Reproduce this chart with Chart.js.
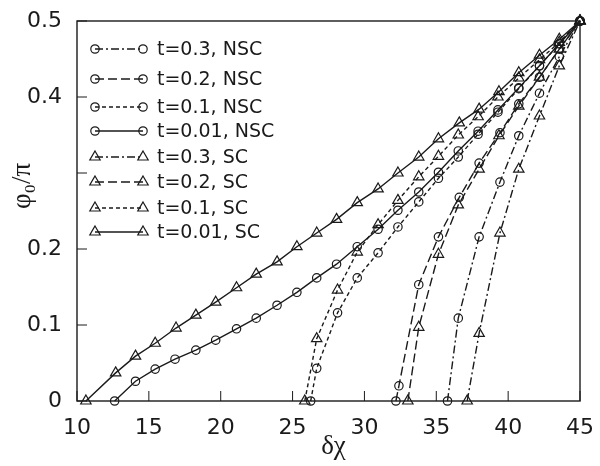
<!DOCTYPE html>
<html>
<head>
<meta charset="utf-8">
<script src="https://cdn.jsdelivr.net/npm/chart.js@4/dist/chart.umd.min.js"></script>
<style>
  html, body { margin: 0; padding: 0; background: #fff; }
  #wrap { width: 600px; height: 466px; }
</style>
</head>
<body>
<div id="wrap"><canvas id="phiChart" width="600" height="466"></canvas></div>
<script>
// ── data (δχ vs φ0/π) ──
const seriesLabels = ['t=0.3, NSC', 't=0.2, NSC', 't=0.1, NSC', 't=0.01, NSC',
                      't=0.3, SC',  't=0.2, SC',  't=0.1, SC',  't=0.01, SC'];

const nsc03X = [35.78, 36.53, 37.98, 39.43, 40.74, 42.18, 43.56, 45.0];
const nsc03Y = [0, 0.109, 0.216, 0.288, 0.349, 0.405, 0.453, 0.5];

const nsc02X = [32.19, 32.40, 33.78, 35.15, 36.60, 37.98, 39.43, 40.74, 42.18, 43.56, 45.0];
const nsc02Y = [0, 0.020, 0.153, 0.216, 0.268, 0.313, 0.353, 0.391, 0.426, 0.463, 0.5];

const nsc01X = [26.26, 26.68, 28.13, 29.50, 30.95, 32.33, 33.78, 35.15, 36.53, 37.91, 39.29, 40.74, 42.18, 43.56, 45.0];
const nsc01Y = [0, 0.043, 0.116, 0.162, 0.195, 0.229, 0.262, 0.293, 0.321, 0.351, 0.380, 0.411, 0.441, 0.470, 0.5];

const nsc001X = [12.62, 14.07, 15.44, 16.82, 18.27, 19.65, 21.10, 22.47, 23.92, 25.30, 26.68, 28.06,
                 29.50, 30.95, 32.33, 33.78, 35.15, 36.53, 37.91, 39.29, 40.74, 42.18, 43.56, 45.0];
const nsc001Y = [0, 0.026, 0.042, 0.055, 0.067, 0.080, 0.095, 0.109, 0.126, 0.143, 0.162, 0.180,
                 0.203, 0.226, 0.251, 0.275, 0.301, 0.329, 0.355, 0.383, 0.412, 0.441, 0.470, 0.5];

const sc03X = [37.15, 37.98, 39.43, 40.74, 42.18, 43.56, 45.0];
const sc03Y = [0, 0.089, 0.221, 0.305, 0.375, 0.441, 0.5];

const sc02X = [33.02, 33.78, 35.15, 36.53, 37.98, 39.36, 40.74, 42.18, 43.56, 45.0];
const sc02Y = [0, 0.097, 0.193, 0.258, 0.305, 0.349, 0.388, 0.426, 0.463, 0.5];

const sc01X = [25.85, 26.68, 28.13, 29.50, 30.95, 32.33, 33.78, 35.15, 36.53, 37.91, 39.29, 40.74, 42.18, 43.56, 45.0];
const sc01Y = [0, 0.082, 0.146, 0.196, 0.232, 0.264, 0.295, 0.322, 0.350, 0.374, 0.400, 0.425, 0.449, 0.472, 0.5];

const sc001X = [10.62, 12.69, 14.07, 15.44, 16.89, 18.27, 19.65, 21.10, 22.47, 23.92, 25.30, 26.68, 28.06,
                29.50, 30.95, 32.33, 33.78, 35.15, 36.60, 37.98, 39.36, 40.74, 42.18, 43.56, 45.0];
const sc001Y = [0, 0.037, 0.059, 0.076, 0.096, 0.113, 0.130, 0.149, 0.167, 0.183, 0.203, 0.221, 0.239,
                0.261, 0.279, 0.300, 0.321, 0.345, 0.366, 0.384, 0.407, 0.432, 0.455, 0.476, 0.5];

const xTicks = [10, 15, 20, 25, 30, 35, 40, 45];
const yTicks = [0, 0.1, 0.2, 0.3, 0.4, 0.5];
const yTickLabels = ['0', '0.1', '0.2', '', '0.4', '0.5'];

const INK = '#1a1a1a';
const DASH = { '0.3': [8, 3, 2, 3], '0.2': [9, 4], '0.1': [4, 3], '0.01': [] };

const pts = (xs, ys) => xs.map((x, i) => ({ x, y: ys[i] }));

function mkSet(i, xs, ys, t, shape) {
  return {
    label: seriesLabels[i],
    data: pts(xs, ys),
    borderColor: INK,
    borderWidth: 1.4,
    borderDash: DASH[t],
    pointStyle: shape,
    pointRadius: shape === 'triangle' ? 6 : 4.2,
    pointBorderWidth: 1.2,
    pointBorderColor: INK,
    pointBackgroundColor: 'rgba(0,0,0,0)',
    tension: 0,
    clip: false
  };
}

const datasets = [
  mkSet(0, nsc03X, nsc03Y, '0.3', 'circle'),
  mkSet(1, nsc02X, nsc02Y, '0.2', 'circle'),
  mkSet(2, nsc01X, nsc01Y, '0.1', 'circle'),
  mkSet(3, nsc001X, nsc001Y, '0.01', 'circle'),
  mkSet(4, sc03X, sc03Y, '0.3', 'triangle'),
  mkSet(5, sc02X, sc02Y, '0.2', 'triangle'),
  mkSet(6, sc01X, sc01Y, '0.1', 'triangle'),
  mkSet(7, sc001X, sc001Y, '0.01', 'triangle')
];

// frame, inward ticks, axis titles and the in-plot legend
const decor = {
  id: 'decor',
  afterDraw(chart) {
    const { ctx, chartArea: a, scales } = chart;
    ctx.save();
    ctx.strokeStyle = INK;
    ctx.lineWidth = 1.4;
    ctx.setLineDash([]);
    ctx.strokeRect(a.left, a.top, a.right - a.left, a.bottom - a.top);

    ctx.beginPath();
    xTicks.forEach(v => {
      const px = scales.x.getPixelForValue(v);
      ctx.moveTo(px, a.bottom); ctx.lineTo(px, a.bottom - 10);
    });
    yTicks.forEach(v => {
      const py = scales.y.getPixelForValue(v);
      ctx.moveTo(a.left, py); ctx.lineTo(a.left + 10, py);
    });
    ctx.lineWidth = 1;
    ctx.stroke();

    // axis titles
    ctx.fillStyle = INK;
    ctx.font = '27px "Liberation Serif", serif';
    ctx.textAlign = 'center';
    ctx.textBaseline = 'middle';
    ctx.fillText('δχ', (a.left + a.right) / 2 + 5, 447);

    ctx.save();
    ctx.translate(23, 186);
    ctx.rotate(-Math.PI / 2);
    ctx.fillText('φ₀/π', 0, 0);
    ctx.restore();

    // legend inside plot
    const rowY = [49, 79, 107, 131, 157, 182, 208, 232];
    const x0 = 95, x1 = 143;
    ctx.font = '19px "DejaVu Sans", sans-serif';
    ctx.textAlign = 'left';
    chart.data.datasets.forEach((ds, i) => {
      const y = rowY[i];
      ctx.strokeStyle = INK;
      ctx.lineWidth = 1.4;
      ctx.setLineDash(ds.borderDash);
      ctx.beginPath(); ctx.moveTo(x0, y); ctx.lineTo(x1, y); ctx.stroke();
      ctx.setLineDash([]);
      ctx.lineWidth = 1.2;
      ctx.fillStyle = 'rgba(0,0,0,0)';
      [x0, x1].forEach(px => {
        Chart.helpers.drawPoint(ctx, { pointStyle: ds.pointStyle, radius: ds.pointRadius, rotation: 0, borderWidth: 1.2 }, px, y);
      });
      ctx.fillStyle = INK;
      ctx.fillText(ds.label, 157, y + 1);
    });
    ctx.restore();
  }
};

new Chart(document.getElementById('phiChart'), {
  type: 'line',
  data: { datasets },
  options: {
    responsive: false,
    animation: false,
    layout: { padding: { left: 0, right: 16, top: 21, bottom: 0 } },
    plugins: { legend: { display: false }, tooltip: { enabled: false } },
    scales: {
      x: {
        type: 'linear', min: 10, max: 45,
        afterFit: s => { s.height = 65; },
        afterBuildTicks: s => { s.ticks = xTicks.map(v => ({ value: v })); },
        grid: { display: false },
        border: { display: false },
        ticks: { color: INK, padding: 6, maxRotation: 0, font: { family: 'DejaVu Sans', size: 22 } }
      },
      y: {
        type: 'linear', min: 0, max: 0.5,
        afterFit: s => { s.width = 77; },
        afterBuildTicks: s => { s.ticks = yTicks.map(v => ({ value: v })); },
        grid: { display: false },
        border: { display: false },
        ticks: {
          color: INK, padding: 7, font: { family: 'DejaVu Sans', size: 22 },
          callback: v => yTickLabels[yTicks.findIndex(t => Math.abs(t - v) < 1e-9)]
        }
      }
    }
  },
  plugins: [decor]
});
</script>
</body>
</html>
